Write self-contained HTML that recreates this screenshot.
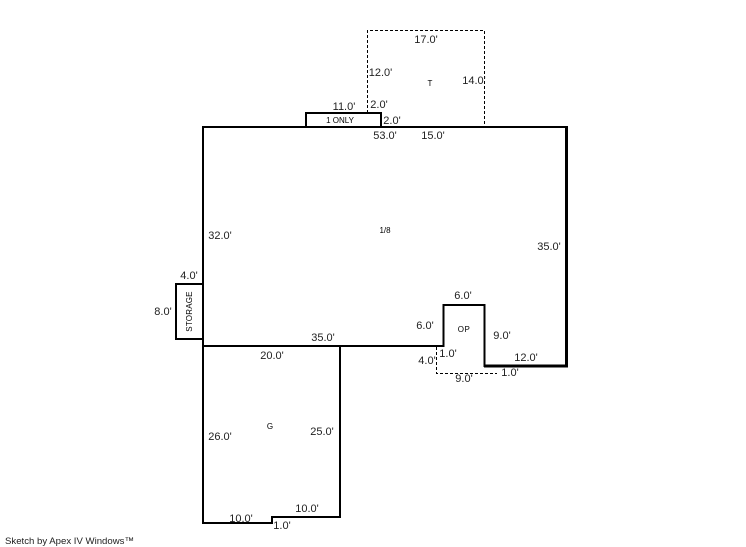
<!DOCTYPE html>
<html>
<head>
<meta charset="utf-8">
<style>
html,body{margin:0;padding:0;background:#fff;width:746px;height:547px;overflow:hidden}
svg{display:block}
text{font-family:"Liberation Sans",sans-serif;font-size:11px;fill:#222}
.s{font-size:8px;fill:#000}
</style>
</head>
<body>
<svg width="746" height="547" viewBox="0 0 746 547" xmlns="http://www.w3.org/2000/svg">
<g fill="none" stroke="#000" stroke-width="1" stroke-dasharray="3 2">
<path d="M367.5 113V30.5H484.5V127"/>
<path d="M436.5 347V373.5H497"/>
</g>
<g fill="none" stroke="#000" stroke-width="2" stroke-linecap="square">
<path d="M203 523V127H566"/>
<path d="M203 346H443.5V305H484.5V366"/>
<path d="M340 346V517H272V523H203"/>
<path d="M203 284H176V339H203"/>
<path d="M306 127V113H381V127"/>
</g>
<path d="M566.5 126V366H484" fill="none" stroke="#000" stroke-width="3"/>
<g text-anchor="middle">
<text x="426" y="43">17.0'</text>
<text x="380.5" y="76">12.0'</text>
<text x="474" y="84">14.0'</text>
<text x="379" y="108">2.0'</text>
<text x="344" y="110">11.0'</text>
<text x="392" y="124">2.0'</text>
<text x="385" y="139">53.0'</text>
<text x="433" y="139">15.0'</text>
<text x="220" y="239">32.0'</text>
<text x="549" y="250">35.0'</text>
<text x="189" y="279">4.0'</text>
<text x="163" y="315">8.0'</text>
<text x="463" y="299">6.0'</text>
<text x="425" y="329">6.0'</text>
<text x="502" y="339">9.0'</text>
<text x="323" y="341">35.0'</text>
<text x="272" y="359">20.0'</text>
<text x="448" y="357">1.0'</text>
<text x="427" y="364">4.0'</text>
<text x="526" y="361">12.0'</text>
<text x="464" y="382">9.0'</text>
<text x="510" y="376">1.0'</text>
<text x="220" y="440">26.0'</text>
<text x="322" y="435">25.0'</text>
<text x="307" y="512">10.0'</text>
<text x="241" y="522">10.0'</text>
<text x="282" y="529">1.0'</text>
<text class="s" x="340" y="123">1 ONLY</text>
<text class="s" x="430" y="86">T</text>
<text class="s" x="385" y="233">1/8</text>
<text class="s" x="464" y="332" letter-spacing=".5">OP</text>
<text class="s" x="270" y="429">G</text>
<text class="s" transform="translate(192 311.5) rotate(-90)" letter-spacing=".2">STORAGE</text>
</g>
<text x="5" y="544" style="font-size:9.6px">Sketch by Apex IV Windows™</text>
</svg>
</body>
</html>
